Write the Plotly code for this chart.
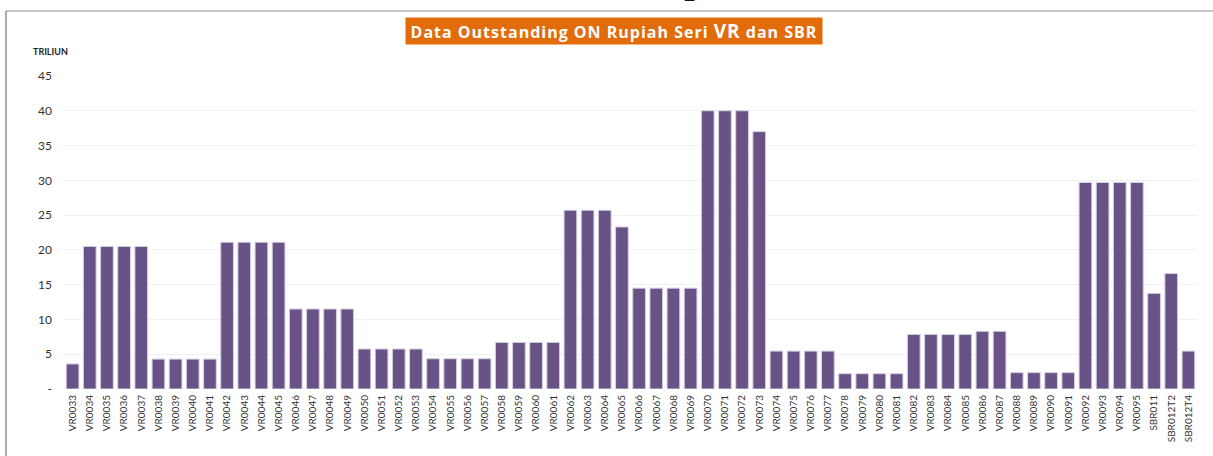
import plotly.graph_objects as go

categories = [
    "VR0033", "VR0034", "VR0035", "VR0036", "VR0037", "VR0038", "VR0039", "VR0040",
    "VR0041", "VR0042", "VR0043", "VR0044", "VR0045", "VR0046", "VR0047", "VR0048",
    "VR0049", "VR0050", "VR0051", "VR0052", "VR0053", "VR0054", "VR0055", "VR0056",
    "VR0057", "VR0058", "VR0059", "VR0060", "VR0061", "VR0062", "VR0063", "VR0064",
    "VR0065", "VR0066", "VR0067", "VR0068", "VR0069", "VR0070", "VR0071", "VR0072",
    "VR0073", "VR0074", "VR0075", "VR0076", "VR0077", "VR0078", "VR0079", "VR0080",
    "VR0081", "VR0082", "VR0083", "VR0084", "VR0085", "VR0086", "VR0087", "VR0088",
    "VR0089", "VR0090", "VR0091", "VR0092", "VR0093", "VR0094", "VR0095", "SBR011",
    "SBR012T2", "SBR012T4",
]

outstanding = [
    3.6, 20.5, 20.5, 20.5, 20.5, 4.3, 4.3, 4.3,
    4.3, 21.1, 21.1, 21.1, 21.1, 11.5, 11.5, 11.5,
    11.5, 5.75, 5.75, 5.75, 5.75, 4.35, 4.35, 4.35,
    4.35, 6.7, 6.7, 6.7, 6.7, 25.7, 25.7, 25.7,
    23.3, 14.5, 14.5, 14.5, 14.5, 40.0, 40.0, 40.0,
    37.0, 5.45, 5.45, 5.45, 5.45, 2.2, 2.2, 2.2,
    2.2, 7.85, 7.85, 7.85, 7.85, 8.3, 8.3, 2.35,
    2.35, 2.35, 2.35, 29.7, 29.7, 29.7, 29.7, 13.75,
    16.6, 5.45,
]

y_tickvals = [0, 5, 10, 15, 20, 25, 30, 35, 40, 45]
y_ticktext = ["-", "5", "10", "15", "20", "25", "30", "35", "40", "45"]

title_text = ('<span style="letter-spacing:1px">Data Outstanding ON Rupiah Seri </span>'
              '<span style="font-size:19px;letter-spacing:1px">VR</span>'
              '<span style="letter-spacing:1px"> dan SBR</span>')
unit_label = "TRILIUN"

W, H = 1213, 456
ML, MR, MT, MB = 64, 16, 76, 67
PH = H - MT - MB
PW = W - ML - MR


def px_to_paper_x(px):
    return (px - ML) / PW


def px_to_paper_y(py):
    return (H - MB - py) / PH


fig = go.Figure()
fig.add_trace(go.Bar(
    x=categories,
    y=outstanding,
    marker=dict(color="#685286", line=dict(color="#d8cfe4", width=1)),
    hoverinfo="x+y",
))

fig.update_layout(
    width=W, height=H,
    margin=dict(l=ML, r=MR, t=MT, b=MB),
    paper_bgcolor="white",
    plot_bgcolor="white",
    bargap=0.26,
    showlegend=False,
    font=dict(family="Lato, Open Sans, sans-serif", color="#333333"),
    xaxis=dict(
        type="category",
        tickangle=-90,
        tickfont=dict(family="Lato, sans-serif", size=10, color="#333333"),
        showgrid=False,
        showline=False,
        ticks="",
        ticklabelstandoff=3,
        fixedrange=True,
    ),
    yaxis=dict(
        range=[0, 45],
        tickvals=y_tickvals,
        ticktext=y_ticktext,
        tickfont=dict(family="Lato, sans-serif", size=12, color="#333333"),
        showgrid=True,
        gridcolor="#f0f0f0",
        gridwidth=1,
        zeroline=False,
        showline=False,
        ticks="",
        ticklabelstandoff=11,
        fixedrange=True,
    ),
    shapes=[
        dict(type="line", xref="paper", yref="paper",
             x0=px_to_paper_x(6), x1=px_to_paper_x(W + 5),
             y0=px_to_paper_y(11), y1=px_to_paper_y(11),
             line=dict(color="#b4b4b8", width=1.5)),
        dict(type="line", xref="paper", yref="paper",
             x0=px_to_paper_x(6), x1=px_to_paper_x(6),
             y0=px_to_paper_y(11), y1=px_to_paper_y(H + 5),
             line=dict(color="#948aa6", width=1.5)),
    ],
    annotations=[
        dict(text="<b>" + title_text + "</b>", xref="paper", yref="paper",
             x=px_to_paper_x(614), y=px_to_paper_y(31.5),
             xanchor="center", yanchor="middle", showarrow=False,
             font=dict(family="Open Sans, sans-serif", size=16, color="white"),
             bgcolor="#e36c0a", borderpad=2, width=412, height=22),
        dict(text="<b>" + unit_label + "</b>", xref="paper", yref="paper",
             x=px_to_paper_x(50), y=px_to_paper_y(52),
             xanchor="center", yanchor="middle", showarrow=False,
             font=dict(family="Lato, sans-serif", size=9, color="#222222")),
        dict(text="g", xref="paper", yref="paper",
             x=px_to_paper_x(606), y=px_to_paper_y(-23.5),
             xanchor="center", yanchor="middle", showarrow=False,
             font=dict(family="Liberation Serif, serif", size=44, color="#111111")),
        dict(text="p", xref="paper", yref="paper",
             x=px_to_paper_x(695), y=px_to_paper_y(-22),
             xanchor="center", yanchor="middle", showarrow=False,
             font=dict(family="Liberation Serif, serif", size=44, color="#111111")),
    ],
)

fig.write_html(
    "out.html",
    config={"displayModeBar": False},
    post_script="document.body.style.margin='0';document.body.style.overflow='hidden';",
)
